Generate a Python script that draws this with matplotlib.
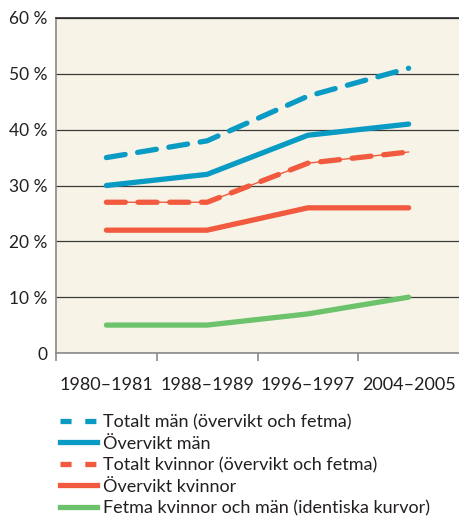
import matplotlib
matplotlib.use("Agg")
import matplotlib.pyplot as plt
from matplotlib.lines import Line2D

plt.rcParams['font.family'] = ['Lato', 'DejaVu Sans']

categories = ["1980–1981", "1988–1989", "1996–1997", "2004–2005"]
totalt_man = [35, 38, 46, 51]
overvikt_man = [30, 32, 39, 41]
totalt_kvinnor = [27, 27, 34, 36]
overvikt_kvinnor = [22, 22, 26, 26]
fetma = [5, 5, 7, 10]
yticks = [0, 10, 20, 30, 40, 50, 60]
ytick_labels = ["0", "10 %", "20 %", "30 %", "40 %", "50 %", "60 %"]
labels = ["Totalt män (övervikt och fetma)", "Övervikt män",
          "Totalt kvinnor (övervikt och fetma)", "Övervikt kvinnor",
          "Fetma kvinnor och män (identiska kurvor)"]

blue = "#0a9bc4"
red = "#f15a3f"
green = "#6cc36b"
bg = "#f7f4e7"

fig = plt.figure(figsize=(4.59, 5.17), dpi=100)
ax = fig.add_axes([56/459, 1-353/517, 1-56/459, (353-18)/517])
ax.set_facecolor(bg)

x = list(range(len(categories)))
lw = 3.8
ax.plot(x, totalt_man, color=blue, lw=lw, ls=(0, (3.6, 2.4)), dash_capstyle='round', solid_capstyle='round', zorder=5)
ax.plot(x, overvikt_man, color=blue, lw=lw, solid_capstyle='round', zorder=5)
ax.plot(x, totalt_kvinnor, color=red, lw=1.0, zorder=4)
ax.plot(x, totalt_kvinnor, color=red, lw=lw, ls=(0, (3.6, 2.4)), dash_capstyle='round', zorder=5)
ax.plot(x, overvikt_kvinnor, color=red, lw=lw, solid_capstyle='round', zorder=5)
ax.plot(x, fetma, color=green, lw=lw, solid_capstyle='round', zorder=5)

ax.set_xlim(-0.5, 3.5)
ax.set_ylim(0, 60)
ax.set_yticks(yticks)
ax.set_yticklabels(ytick_labels, fontsize=12.5, color="#231f20")
ax.yaxis.grid(True, color="#3a3a3a", lw=0.9)
ax.set_axisbelow(True)
ax.tick_params(axis='y', length=0, pad=6)

ax.set_xticks([-0.5, 0.5, 1.5, 2.5], minor=False)
ax.set_xticklabels([])
ax.set_xticks(x, minor=True)
ax.set_xticklabels(categories, minor=True, fontsize=13, color="#231f20")
ax.tick_params(axis='x', which='major', length=6, width=1.2, color="#8a8a8a", direction='out')
ax.tick_params(axis='x', which='minor', length=0, pad=17)

ax.spines['right'].set_visible(False)
ax.spines['top'].set_color("#2a2a2a")
ax.spines['top'].set_linewidth(1.2)
ax.spines['left'].set_color("#8a8a8a")
ax.spines['left'].set_linewidth(1.2)
ax.spines['bottom'].set_color("#8a8a8a")
ax.spines['bottom'].set_linewidth(1.2)

handles = [
    Line2D([], [], color=blue, lw=lw, ls=(0, (2.1, 2.6))),
    Line2D([], [], color=blue, lw=lw),
    Line2D([], [], color=red, lw=lw, ls=(0, (2.1, 2.6))),
    Line2D([], [], color=red, lw=lw),
    Line2D([], [], color=green, lw=lw),
]
fig.legend(handles, labels, loc='upper left', bbox_to_anchor=(53/459, 1-407/517),
           frameon=False, fontsize=13, handlelength=2.05, handletextpad=0.3,
           labelspacing=0.3, borderaxespad=0, labelcolor="#231f20")

fig.savefig("out.png", dpi=100)
